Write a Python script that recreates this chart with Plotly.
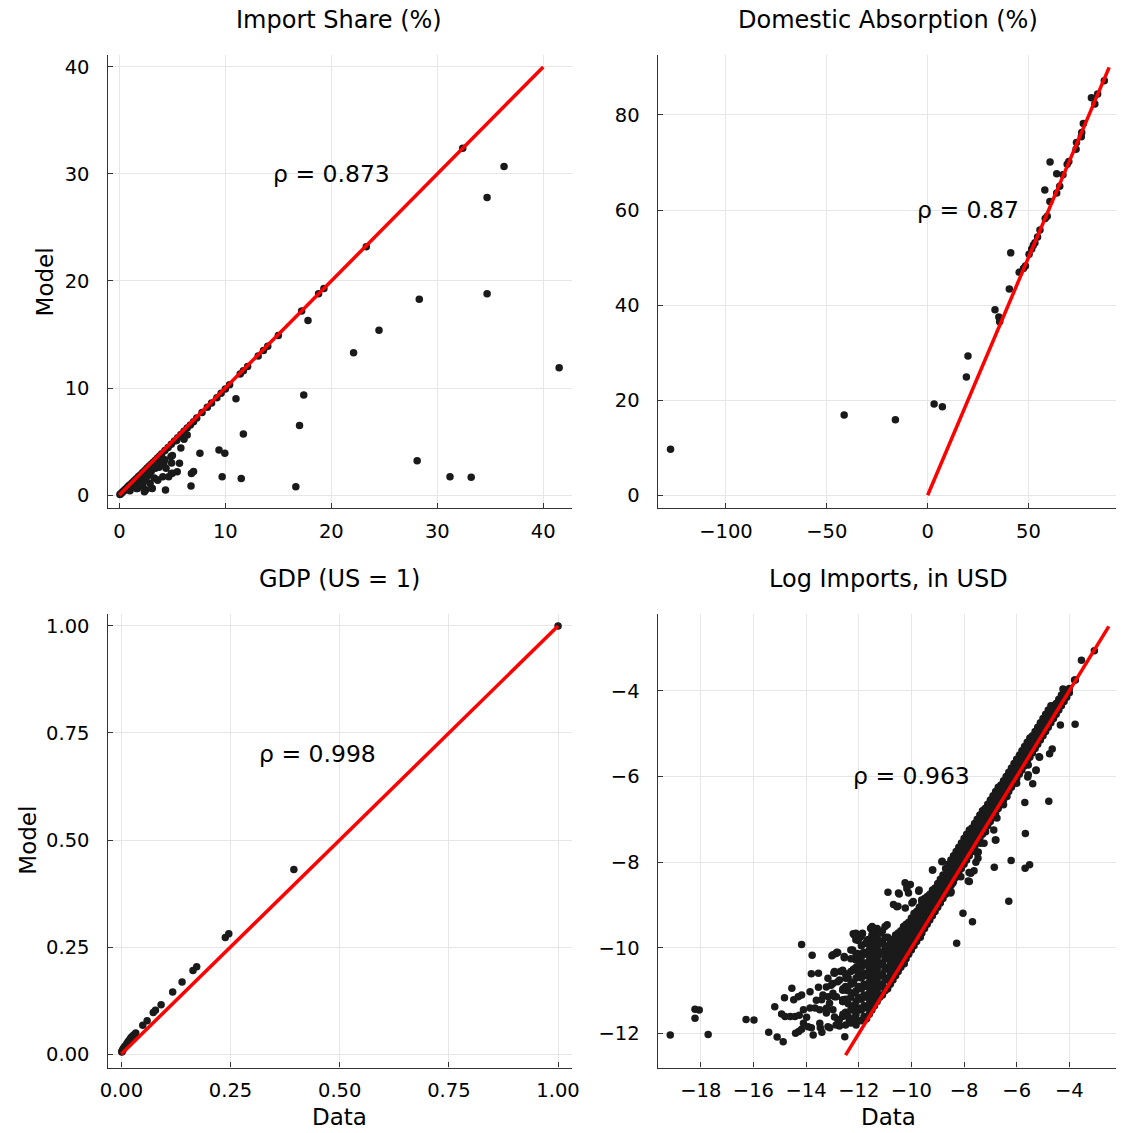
import plotly.graph_objects as go

# ---------------- data ----------------
# Panel 1: Import Share (%)  (data, model)
import_share_pairs = [
    (0.05, 0.05), (0.1, 0.1), (0.2, 0.18), (0.3, 0.28), (0.4, 0.38), (0.5, 0.47), (0.6, 0.57),
    (0.7, 0.66), (0.8, 0.76), (0.9, 0.86), (1.0, 0.95), (1.2, 1.15), (1.4, 1.33), (1.6, 1.53),
    (1.8, 1.72), (2.0, 1.9), (2.2, 2.1), (2.4, 2.3), (2.6, 2.5), (2.8, 2.68), (3.0, 2.88),
    (3.2, 3.05), (3.4, 3.25), (3.6, 3.45), (3.8, 3.65), (4.0, 3.85), (4.3, 4.15), (4.6, 4.45),
    (4.9, 4.75), (5.2, 5.05), (5.5, 5.35), (5.8, 5.65), (6.1, 5.95), (6.4, 6.25), (6.7, 6.55),
    (7.0, 6.85), (7.3, 7.2), (7.8, 7.7), (8.3, 8.2), (8.7, 8.6), (9.2, 9.1), (9.6, 9.5),
    (10.0, 9.9), (10.4, 10.3), (11.4, 11.3), (11.7, 11.6), (12.1, 12.0), (13.1, 13.0),
    (13.6, 13.5), (14.0, 13.9), (15.0, 14.9), (17.2, 17.2), (18.8, 18.8), (19.3, 19.3),
    (23.3, 23.2), (32.4, 32.4),
    (0.8, 0.5), (1.0, 0.4), (1.2, 0.8), (1.5, 0.9), (1.7, 0.6), (2.0, 1.3), (2.2, 0.9),
    (2.4, 1.5), (2.5, 0.5), (2.7, 1.8), (2.9, 1.1), (3.0, 2.2), (3.1, 0.6), (3.3, 1.6),
    (3.4, 2.5), (3.6, 1.4), (3.8, 2.7), (4.1, 1.7), (4.2, 3.0), (4.4, 2.5), (4.35, 0.47),
    (4.65, 1.71), (4.9, 2.0), (4.87, 3.6), (4.93, 3.0), (5.0, 2.03), (5.46, 2.18), (5.67, 2.96),
    (5.8, 4.4), (6.1, 5.2), (6.4, 5.6), (6.76, 0.84), (6.8, 2.0), (7.0, 2.2), (7.6, 3.9),
    (9.4, 4.2), (9.7, 1.7), (9.95, 3.9), (11.0, 9.0), (11.5, 1.55), (11.7, 5.7), (16.65, 0.78),
    (17.0, 6.5), (17.4, 9.35), (17.8, 16.3), (22.1, 13.3), (24.5, 15.4), (28.1, 3.2),
    (28.3, 18.3), (31.2, 1.7), (33.2, 1.65), (34.7, 18.8), (34.7, 27.8), (36.3, 30.7),
    (41.5, 11.9), (3.07, 0.62), (2.36, 0.31), (3.63, 1.4), (2.82, 2.03), (3.13, 2.5),
    (3.75, 2.6), (3.9, 3.3), (4.3, 3.3), (5.0, 3.7), (5.4, 5.1), (3.5, 2.8), (2.5, 1.4),
    (2.2, 1.1), (1.9, 0.8), (1.6, 0.6),
]

# Panel 2: Domestic Absorption (%)
absorption_pairs = [
    (-127.5, 9.7), (-41.4, 16.9), (-16.0, 15.9), (3.2, 19.2), (7.3, 18.6), (19.2, 24.9),
    (20.0, 29.3), (33.4, 39.0), (35.3, 37.5), (35.7, 36.5), (40.5, 43.4), (41.2, 51.0),
    (45.4, 46.9), (47.5, 47.7), (48.5, 48.2), (50.3, 50.7), (51.6, 51.8), (52.4, 52.6),
    (53.2, 53.1), (54.5, 54.3), (55.7, 55.8), (58.1, 64.2), (58.3, 58.2), (59.3, 58.7),
    (60.6, 61.8), (60.7, 70.1), (64.0, 63.6), (65.5, 65.0), (64.0, 67.6), (67.1, 67.4),
    (69.2, 69.6), (70.0, 70.2), (73.6, 72.8), (73.8, 74.2), (76.2, 75.4), (76.4, 76.3),
    (77.2, 78.2), (81.2, 83.6), (82.9, 82.3), (84.3, 84.4), (87.6, 87.2),
]

# Panel 3: GDP (US = 1)
gdp_pairs = [
    (1.0, 1.0), (0.395, 0.431), (0.238, 0.272), (0.246, 0.281), (0.164, 0.195), (0.1725, 0.204),
    (0.139, 0.168), (0.1175, 0.145), (0.091, 0.115), (0.073, 0.097), (0.078, 0.102),
    (0.049, 0.067), (0.059, 0.078), (0.033, 0.049), (0.029, 0.045), (0.023, 0.039),
    (0.018, 0.032), (0.0125, 0.024), (0.0067, 0.016), (0.0033, 0.010), (0.0017, 0.006),
    (0.026, 0.042), (0.021, 0.036), (0.015, 0.028), (0.01, 0.02), (0.008, 0.017),
    (0.005, 0.013), (0.004, 0.011), (0.002, 0.007), (0.001, 0.005),
]

# Panel 4: Log Imports, in USD -- scattered points
log_imports_scatter = [
    (-19.16, -12.03), (-18.22, -11.43), (-18.06, -11.45), (-18.22, -11.64), (-17.72, -12.02),
    (-16.28, -11.67), (-15.98, -11.68), (-15.42, -11.97), (-15.1, -12.08), (-14.87, -12.19),
    (-15.19, -11.37), (-14.82, -11.16), (-14.54, -10.94), (-14.93, -11.54), (-14.8, -11.6),
    (-14.6, -11.6), (-14.42, -11.6), (-14.26, -11.57), (-14.4, -11.99), (-14.28, -11.95),
    (-14.17, -11.9), (-14.47, -11.21), (-14.3, -11.14), (-14.17, -11.1), (-14.17, -9.92),
    (-13.77, -10.17), (-13.8, -10.6), (-13.53, -10.59), (-13.53, -10.92), (-13.02, -10.18),
    (-12.83, -10.1), (-12.55, -10.23), (-13.17, -10.71), (-12.94, -10.58), (-12.7, -10.55),
    (-14.1, -11.76), (-13.98, -11.62), (-13.73, -12.03), (-13.8, -11.86), (-13.46, -11.86),
    (-13.4, -11.97), (-13.1, -11.86), (-12.73, -11.82), (-14.1, -11.44), (-13.85, -11.4),
    (-13.66, -11.4), (-13.48, -11.44), (-13.23, -11.52), (-12.98, -11.44), (-13.41, -11.21),
    (-13.16, -11.14), (-12.98, -11.06), (-13.23, -10.91), (-12.98, -10.83), (-12.73, -10.75),
    (-12.85, -11.14), (-12.61, -11.21), (-12.61, -10.99), (-12.79, -11.67), (-12.61, -11.6),
    (-12.53, -12.07), (-13.92, -11.84), (-13.48, -11.76), (-13.17, -11.84), (-12.86, -11.8),
    (-12.74, -11.68), (-13.85, -11.02), (-13.61, -11.22), (-13.36, -11.1), (-13.11, -11.29),
    (-12.92, -11.14), (-12.61, -11.25), (-12.49, -10.98), (-13.23, -11.41), (-12.92, -11.61),
    (-12.36, -11.68), (-12.11, -11.57), (-12.92, -10.55), (-12.61, -10.52), (-12.49, -10.71),
    (-12.8, -10.79), (-13.05, -10.87), (-12.23, -10.83), (-11.99, -10.67), (-11.74, -10.59),
    (-12.11, -10.52), (-11.8, -10.36), (-11.55, -10.44), (-12.86, -10.13), (-12.55, -10.2),
    (-12.23, -10.05), (-12.11, -10.28), (-11.86, -10.13), (-11.55, -10.05), (-12.11, -9.81),
    (-11.74, -9.89), (-11.43, -9.81), (-12.11, -9.66), (-11.86, -9.66), (-11.55, -9.54),
    (-11.49, -9.5), (-12.21, -9.67), (-11.86, -9.67), (-12.02, -9.83), (-11.51, -9.57),
    (-12.17, -9.7), (-11.92, -9.74), (-11.67, -9.81), (-12.98, -10.16), (-12.8, -10.11),
    (-12.3, -10.05), (-12.05, -10.13), (-12.92, -10.59), (-12.61, -10.55), (-11.61, -10.44),
    (-11.36, -10.2), (-10.99, -10.05), (-10.89, -8.70), (-10.49, -8.72), (-10.17, -8.62),
    (-10.04, -8.52), (-9.72, -8.68), (-10.68, -8.99), (-10.51, -9.03), (-10.23, -9.07),
    (-9.98, -8.95), (-9.19, -8.18), (-8.83, -7.98), (-8.51, -8.72), (-8.04, -9.19),
    (-7.68, -9.39), (-8.28, -9.89), (-10.27, -10.37), (-9.66, -9.75), (-6.85, -8.12),
    (-6.21, -7.96), (-6.3, -8.91), (-5.68, -8.14), (-5.51, -8.06), (-5.67, -7.33),
    (-5.69, -6.61), (-4.78, -6.58), (-5.39, -6.17), (-5.58, -6.01), (-5.26, -5.85),
    (-5.13, -5.55), (-4.75, -5.47), (-4.65, -5.36), (-4.34, -4.8), (-3.78, -4.78),
    (-3.54, -3.29), (-3.05, -3.07), (-3.77, -3.75), (-4.24, -3.96), (-4.14, -4.09),
    (-6.79, -7.48), (-7.24, -7.56), (-7.46, -7.76), (-7.55, -8.0), (-7.81, -8.24),
    (-7.84, -8.44), (-7.62, -8.2), (-7.47, -7.91), (-6.81, -7.48), (-6.87, -7.25),
    (-7.18, -7.29), (-6.75, -6.97), (-6.5, -6.66), (-6.37, -6.47), (-6.18, -6.2),
    (-5.56, -5.96), (-6.0, -6.16), (-5.15, -5.54), (-5.27, -5.86), (-5.56, -5.73),
    (-10.46, -8.74), (-10.11, -8.72), (-9.71, -8.65), (-10.55, -9.04), (-9.93, -8.92),
    (-9.61, -8.88), (-11.49, -9.54), (-10.92, -9.46), (-7.8, -8.45), (-7.74, -8.26),
    (-8.12, -8.34), (-8.49, -8.69), (-8.43, -8.49), (-6.99, -7.01), (-7.37, -7.56),
    (-7.49, -7.79), (-10.24, -8.48), (-10.17, -8.55), (-9.2, -8.18), (-8.84, -7.99),
]

# Panel 4: the dense cloud / band, read column by column (data value -> model values)
log_imports_columns = [
    (-12.6, [-11.55, -11.25, -10.95]),
    (-12.5, [-11.8, -11.5, -11.2, -10.9, -10.6]),
    (-12.4, [-11.6, -11.3, -11.0, -10.7]),
    (-12.3, [-11.75, -11.45, -11.15, -10.85, -10.55, -10.25]),
    (-12.2, [-11.65, -11.35, -11.05, -10.8, -10.5]),
    (-12.1, [-11.8, -11.5, -11.25, -11.0, -10.7, -10.45, -10.15]),
    (-12.0, [-11.7, -11.4, -11.15, -10.9, -10.6, -10.3]),
    (-11.9, [-11.7, -11.45, -11.2, -10.95, -10.7, -10.45, -10.2, -9.95]),
    (-11.8, [-11.6, -11.35, -11.1, -10.85, -10.6, -10.35, -10.1]),
    (-11.7, [-11.65, -11.4, -11.15, -10.9, -10.65, -10.4, -10.15, -9.9]),
    (-11.6, [-11.55, -11.3, -11.05, -10.8, -10.55, -10.3, -10.05, -9.8]),
    (-11.5, [-11.45, -11.2, -10.95, -10.7, -10.45, -10.2, -9.95, -9.7]),
    (-11.4, [-11.35, -11.1, -10.85, -10.6, -10.35, -10.1, -9.85, -9.6]),
    (-11.3, [-11.25, -11.0, -10.75, -10.5, -10.25, -10.0, -9.75, -9.55]),
    (-11.2, [-11.15, -10.9, -10.65, -10.4, -10.15, -9.9, -9.65]),
    (-11.1, [-11.1, -10.85, -10.6, -10.35, -10.1, -9.85, -9.6]),
    (-11.0, [-11.0, -10.75, -10.5, -10.25, -10.0, -9.75, -9.5]),
    (-10.9, [-10.95, -10.7, -10.45, -10.2, -9.95, -9.75]),
    (-10.8, [-10.85, -10.6, -10.35, -10.1, -9.85]),
    (-10.7, [-10.75, -10.5, -10.25, -10.0, -9.8]),
    (-10.6, [-10.65, -10.4, -10.15, -9.9, -9.7]),
    (-10.5, [-10.55, -10.3, -10.05, -9.85, -9.65]),
    (-10.4, [-10.45, -10.2, -9.95, -9.75, -9.6]),
    (-10.3, [-10.35, -10.1, -9.9, -9.7, -9.5]),
    (-10.2, [-10.25, -10.0, -9.8, -9.6, -9.45]),
    (-10.1, [-10.15, -9.95, -9.75, -9.55, -9.4]),
    (-10.0, [-10.05, -9.85, -9.65, -9.45, -9.3]),
    (-9.9, [-9.95, -9.75, -9.55, -9.4, -9.2]),
    (-9.8, [-9.85, -9.65, -9.45, -9.3, -9.15]),
    (-9.7, [-9.75, -9.55, -9.35, -9.2, -9.05]),
    (-9.6, [-9.65, -9.45, -9.25, -9.1, -8.95]),
    (-9.5, [-9.55, -9.35, -9.15, -9.0, -8.85]),
    (-9.4, [-9.45, -9.25, -9.05, -8.9, -8.8]),
    (-9.3, [-9.35, -9.15, -8.95, -8.75]),
    (-9.2, [-9.25, -9.05, -8.85, -8.65]),
    (-9.1, [-9.15, -8.95, -8.75, -8.6]),
    (-9.0, [-9.05, -8.85, -8.65, -8.5]),
    (-8.9, [-8.95, -8.75, -8.55, -8.4]),
    (-8.8, [-8.85, -8.65, -8.45, -8.3]),
    (-8.7, [-8.75, -8.55, -8.35, -8.15]),
    (-8.6, [-8.65, -8.45, -8.25, -8.05]),
    (-8.5, [-8.55, -8.35, -8.15, -7.95]),
    (-8.4, [-8.45, -8.25, -8.05, -7.85]),
    (-8.3, [-8.35, -8.15, -7.95, -7.75]),
    (-8.2, [-8.25, -8.05, -7.85, -7.65]),
    (-8.1, [-8.15, -7.95, -7.75, -7.55]),
    (-8.0, [-8.05, -7.85, -7.65, -7.45]),
    (-7.9, [-7.95, -7.75, -7.55, -7.35]),
    (-7.8, [-7.85, -7.65, -7.45, -7.25]),
    (-7.7, [-7.75, -7.55, -7.35, -7.2]),
    (-7.6, [-7.65, -7.45, -7.25, -7.1]),
    (-7.5, [-7.55, -7.35, -7.15, -7.0]),
    (-7.4, [-7.45, -7.25, -7.05, -6.9]),
    (-7.3, [-7.35, -7.15, -6.95, -6.8]),
    (-7.2, [-7.25, -7.05, -6.85, -6.75]),
    (-7.1, [-7.15, -6.95, -6.8, -6.65]),
    (-7.0, [-7.05, -6.85, -6.7, -6.55]),
    (-6.9, [-6.95, -6.75, -6.6, -6.45]),
    (-6.8, [-6.85, -6.65, -6.5, -6.35]),
    (-6.7, [-6.75, -6.55, -6.4, -6.25]),
    (-6.6, [-6.65, -6.45, -6.3, -6.2]),
    (-6.5, [-6.55, -6.35, -6.2, -6.1]),
    (-6.4, [-6.45, -6.25, -6.1, -6.0]),
    (-6.3, [-6.35, -6.15, -6.0, -5.9]),
    (-6.2, [-6.25, -6.05, -5.9, -5.8]),
    (-6.1, [-6.15, -5.95, -5.8, -5.7]),
    (-6.0, [-6.05, -5.85, -5.7, -5.6]),
    (-5.9, [-5.95, -5.75, -5.6, -5.5]),
    (-5.8, [-5.85, -5.65, -5.5, -5.4]),
    (-5.7, [-5.75, -5.55, -5.4, -5.3]),
    (-5.6, [-5.65, -5.45, -5.3, -5.2]),
    (-5.5, [-5.55, -5.4, -5.25, -5.1]),
    (-5.4, [-5.45, -5.3, -5.15, -5.05]),
    (-5.3, [-5.35, -5.2, -5.05, -4.95]),
    (-5.2, [-5.25, -5.1, -4.95, -4.85]),
    (-5.1, [-5.15, -5.0, -4.85, -4.75]),
    (-5.0, [-5.05, -4.9, -4.75, -4.65]),
    (-4.9, [-4.95, -4.8, -4.65, -4.55]),
    (-4.8, [-4.85, -4.7, -4.55, -4.45]),
    (-4.7, [-4.75, -4.6, -4.45, -4.35]),
    (-4.6, [-4.65, -4.5, -4.35]),
    (-4.5, [-4.55, -4.4, -4.3]),
    (-4.4, [-4.45, -4.3, -4.2]),
    (-4.3, [-4.35, -4.2, -4.1]),
    (-4.2, [-4.25, -4.1, -4.0]),
    (-4.1, [-4.15, -4.0]),
    (-4.0, [-4.05, -3.95]),
    (-3.8, [-3.75]),
]

# 45-degree reference line end points per panel
line_import_share = [0, 40]
line_absorption = [0, 90]
line_gdp = [0, 1]
line_log_imports = [-12.5, -2.5]

titles = ["Import Share (%)", "Domestic Absorption (%)", "GDP (US = 1)", "Log Imports, in USD"]
rho_labels = ["ρ = 0.873", "ρ = 0.87", "ρ = 0.998", "ρ = 0.963"]
rho_positions = [(20, 30), (20, 60), (0.45, 0.7), (-10, -6)]

# ---------------- figure ----------------
W, H = 1124, 1133
FONT = "DejaVu Sans"
POINT_COLOR = "#1a1a1a"

def px_x(p):
    return p / W

def px_y(p):
    return 1 - p / H

fig = go.Figure()

def add_panel(idx, xs, ys, line):
    xa = "x" if idx == 1 else f"x{idx}"
    ya = "y" if idx == 1 else f"y{idx}"
    fig.add_trace(go.Scatter(
        x=xs, y=ys, mode="markers", xaxis=xa, yaxis=ya, showlegend=False,
        marker=dict(size=7.5, color=POINT_COLOR, line=dict(width=0)),
    ))
    fig.add_trace(go.Scatter(
        x=line, y=line, mode="lines", xaxis=xa, yaxis=ya, showlegend=False,
        line=dict(color="#ff0000", width=3.5),
    ))

add_panel(1, [p[0] for p in import_share_pairs], [p[1] for p in import_share_pairs], line_import_share)
add_panel(2, [p[0] for p in absorption_pairs], [p[1] for p in absorption_pairs], line_absorption)
add_panel(3, [p[0] for p in gdp_pairs], [p[1] for p in gdp_pairs], line_gdp)

li_x = [p[0] for p in log_imports_scatter]
li_y = [p[1] for p in log_imports_scatter]
for dx, models in log_imports_columns:
    for m in models:
        li_x.append(dx)
        li_y.append(m)
add_panel(4, li_x, li_y, line_log_imports)

# panel geometry in pixels: (left, right, top, bottom)
geom = {
    1: (101, 572, 55, 508),
    2: (659, 1124, 55, 508),
    3: (101, 572, 614, 1067.5),
    4: (659, 1124, 614, 1067.5),
}
ranges = {
    1: ([-1.116, 42.70], [-1.215, 41.12]),
    2: ([-133.9, 93.4], [-2.67, 92.6]),
    3: ([-0.0316, 1.0316], [-0.0315, 1.028]),
    4: ([-19.64, -2.227], [-12.79, -2.21]),
}
ticks = {
    1: ([0, 10, 20, 30, 40], [0, 10, 20, 30, 40]),
    2: ([-100, -50, 0, 50], [0, 20, 40, 60, 80]),
    3: ([0, 0.25, 0.5, 0.75, 1.0], [0, 0.25, 0.5, 0.75, 1.0]),
    4: ([-18, -16, -14, -12, -10, -8, -6, -4], [-12, -10, -8, -6, -4]),
}

axis_common = dict(
    showgrid=True, gridcolor="#e6e6e6", gridwidth=1, zeroline=False,
    showline=True, linecolor="#333333", linewidth=1.3,
    ticks="inside", ticklen=5, tickcolor="#333333", tickwidth=1,
    tickfont=dict(family=FONT, size=19.5, color="black"), mirror=False,
)

layout = dict(
    width=W, height=H, margin=dict(l=0, r=0, t=0, b=0),
    paper_bgcolor="white", plot_bgcolor="white", showlegend=False,
    font=dict(family=FONT, color="black"),
)
for i in range(1, 5):
    l, r, t, b = geom[i]
    xr, yr = ranges[i]
    xt, yt = ticks[i]
    xk = "xaxis" if i == 1 else f"xaxis{i}"
    yk = "yaxis" if i == 1 else f"yaxis{i}"
    fmt = ".2f" if i == 3 else ""
    layout[xk] = dict(axis_common, domain=[px_x(l), px_x(r)], range=xr, tickvals=xt,
                      tickformat=fmt, ticklabelstandoff=5,
                      anchor="y" if i == 1 else f"y{i}")
    layout[yk] = dict(axis_common, domain=[px_y(b), px_y(t)], range=yr, tickvals=yt,
                      tickformat=fmt, ticklabelstandoff=13,
                      anchor="x" if i == 1 else f"x{i}")
fig.update_layout(**layout)

annotations = []
title_pos = {1: (336, 20), 2: (893, 20), 3: (336, 579), 4: (893, 579)}
for i in range(1, 5):
    x, y = title_pos[i]
    annotations.append(dict(text=titles[i - 1], x=px_x(x), y=px_y(y), xref="paper", yref="paper",
                            showarrow=False, xanchor="center", yanchor="middle",
                            font=dict(family=FONT, size=24, color="black")))
for i in range(1, 5):
    rx, ry = rho_positions[i - 1]
    xa = "x" if i == 1 else f"x{i}"
    ya = "y" if i == 1 else f"y{i}"
    annotations.append(dict(text=rho_labels[i - 1], x=rx, y=ry, xref=xa, yref=ya,
                            showarrow=False, xanchor="center", yanchor="middle",
                            font=dict(family=FONT, size=23.5, color="black")))
for (x, y) in [(38, 282), (20, 840)]:
    annotations.append(dict(text="Model", x=px_x(x), y=px_y(y), xref="paper", yref="paper",
                            showarrow=False, textangle=-90, xanchor="center", yanchor="middle",
                            font=dict(family=FONT, size=23, color="black")))
for (x, y) in [(336, 1117), (893, 1117)]:
    annotations.append(dict(text="Data", x=px_x(x), y=px_y(y), xref="paper", yref="paper",
                            showarrow=False, xanchor="center", yanchor="middle",
                            font=dict(family=FONT, size=23, color="black")))
fig.update_layout(annotations=annotations)

fig.write_html("out.html",
               config={"displayModeBar": False, "responsive": False},
               post_script="document.body.style.margin='0';document.body.style.overflow='hidden';")
